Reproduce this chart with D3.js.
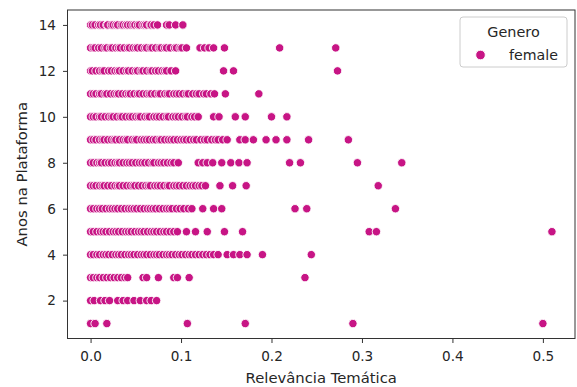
<!DOCTYPE html>
<html>
<head>
<meta charset="utf-8">
<script src="https://cdn.jsdelivr.net/npm/d3@7"></script>
<style>
  html, body { margin: 0; padding: 0; background: #fff; }
  svg { display: block; font-family: "DejaVu Sans", sans-serif; }
</style>
</head>
<body>
<svg id="chart" width="577" height="387"></svg>
<script>
// ---- Data ----
const seriesName = "female";
const legendTitle = "Genero";
const xLabel = "Relevância Temática";
const yLabel = "Anos na Plataforma";
const xTicks = [0.0, 0.1, 0.2, 0.3, 0.4, 0.5];
const yTicks = [2, 4, 6, 8, 10, 12, 14];

const row14 = [0.0,0.002,0.005,0.009,0.011,0.014,0.018,0.019,0.023,0.025,0.028,0.03,0.034,0.036,0.039,0.041,0.044,0.047,0.049,0.052,0.054,0.058,0.06,0.062,0.066,0.067,0.07,0.074,0.084,0.087,0.094,0.102];
const row13 = [0.0,0.003,0.005,0.009,0.012,0.016,0.018,0.022,0.024,0.028,0.031,0.033,0.037,0.041,0.043,0.047,0.05,0.052,0.056,0.06,0.062,0.066,0.068,0.072,0.076,0.078,0.082,0.084,0.088,0.093,0.095,0.099,0.101,0.106,0.121,0.126,0.131,0.136,0.148,0.209,0.271];
const row12 = [0.0,0.002,0.006,0.01,0.013,0.015,0.02,0.023,0.027,0.03,0.032,0.036,0.04,0.042,0.046,0.05,0.052,0.056,0.058,0.062,0.066,0.068,0.072,0.075,0.079,0.082,0.084,0.089,0.094,0.147,0.158,0.273];
const row11 = [0.0,0.003,0.006,0.01,0.012,0.016,0.018,0.022,0.026,0.029,0.031,0.035,0.039,0.042,0.044,0.048,0.052,0.054,0.058,0.062,0.065,0.067,0.071,0.075,0.077,0.082,0.085,0.087,0.092,0.095,0.098,0.102,0.106,0.108,0.113,0.117,0.12,0.125,0.128,0.133,0.137,0.149,0.186];
const row10 = [0.0,0.003,0.006,0.01,0.012,0.016,0.02,0.023,0.025,0.029,0.033,0.035,0.039,0.043,0.046,0.05,0.053,0.055,0.06,0.063,0.065,0.07,0.073,0.076,0.08,0.084,0.086,0.091,0.094,0.097,0.101,0.105,0.107,0.112,0.115,0.119,0.136,0.142,0.16,0.171,0.2,0.217];
const row9 = [0.0,0.003,0.006,0.01,0.013,0.015,0.019,0.023,0.026,0.028,0.032,0.036,0.039,0.041,0.046,0.049,0.051,0.056,0.059,0.062,0.065,0.069,0.072,0.076,0.078,0.082,0.086,0.089,0.092,0.096,0.1,0.103,0.106,0.11,0.114,0.117,0.122,0.126,0.129,0.134,0.138,0.141,0.146,0.151,0.165,0.171,0.18,0.194,0.205,0.217,0.241,0.285];
const row8 = [0.0,0.003,0.007,0.01,0.012,0.016,0.02,0.023,0.027,0.03,0.032,0.036,0.04,0.043,0.046,0.05,0.054,0.057,0.06,0.064,0.068,0.07,0.075,0.078,0.081,0.085,0.089,0.092,0.097,0.119,0.124,0.129,0.135,0.145,0.155,0.164,0.173,0.22,0.232,0.295,0.344];
const row7 = [0.0,0.003,0.006,0.01,0.013,0.015,0.019,0.023,0.027,0.03,0.032,0.036,0.04,0.044,0.047,0.049,0.053,0.057,0.061,0.064,0.066,0.071,0.074,0.077,0.081,0.085,0.087,0.092,0.095,0.098,0.102,0.106,0.11,0.113,0.116,0.12,0.123,0.127,0.143,0.157,0.172,0.318];
const row6 = [0.0,0.003,0.007,0.01,0.013,0.017,0.021,0.024,0.027,0.03,0.034,0.038,0.042,0.045,0.048,0.051,0.055,0.059,0.063,0.066,0.069,0.072,0.076,0.08,0.084,0.087,0.09,0.095,0.099,0.103,0.108,0.112,0.124,0.136,0.145,0.226,0.239,0.337];
const row5 = [0.0,0.003,0.007,0.011,0.014,0.017,0.021,0.025,0.028,0.031,0.035,0.039,0.042,0.045,0.049,0.053,0.056,0.059,0.063,0.067,0.07,0.073,0.077,0.081,0.084,0.088,0.092,0.096,0.106,0.116,0.129,0.148,0.168,0.308,0.316,0.51];
const row4 = [0.0,0.003,0.007,0.01,0.014,0.017,0.02,0.024,0.028,0.031,0.034,0.038,0.042,0.045,0.048,0.052,0.056,0.059,0.062,0.066,0.07,0.073,0.076,0.08,0.084,0.087,0.09,0.094,0.098,0.101,0.105,0.109,0.112,0.116,0.12,0.124,0.128,0.132,0.136,0.141,0.151,0.158,0.165,0.173,0.19,0.244];
const row3 = [0.0,0.003,0.007,0.01,0.014,0.018,0.022,0.026,0.03,0.034,0.038,0.041,0.058,0.062,0.075,0.092,0.096,0.109,0.237];
const row2 = [0.0,0.004,0.011,0.016,0.021,0.03,0.036,0.041,0.048,0.055,0.062,0.067,0.073];
const row1 = [0.0,0.005,0.018,0.107,0.171,0.29,0.5];

const rows = [
  [1, row1], [2, row2], [3, row3], [4, row4], [5, row5], [6, row6], [7, row7],
  [8, row8], [9, row9], [10, row10], [11, row11], [12, row12], [13, row13], [14, row14]
];

// ---- Build point table ----
const points = [];
rows.forEach(([yv, xs]) => xs.forEach(xv => points.push({ x: xv, y: yv })));

// ---- Layout ----
const svg = d3.select("#chart");
const plotLeft = 67.5, plotRight = 575, plotTop = 10, plotBottom = 338.5;
const color = "#c71585";
const textColor = "#262626";

const xMin = d3.min(points, d => d.x), xMax = d3.max(points, d => d.x);
const yMin = d3.min(points, d => d.y), yMax = d3.max(points, d => d.y);
const xPad = (xMax - xMin) * 0.05, yPad = (yMax - yMin) * 0.05;

const x = d3.scaleLinear().domain([xMin - xPad, xMax + xPad]).range([plotLeft, plotRight]);
const y = d3.scaleLinear().domain([yMin - yPad, yMax + yPad]).range([plotBottom, plotTop]);

// points
svg.append("g")
  .selectAll("circle")
  .data(points)
  .join("circle")
  .attr("cx", d => x(d.x))
  .attr("cy", d => y(d.y))
  .attr("r", 4.2)
  .attr("fill", color)
  .attr("stroke", "#fff")
  .attr("stroke-width", 0.9);

// axes
const xAxis = d3.axisBottom(x).tickValues(xTicks).tickFormat(d3.format(".1f")).tickSize(4.5).tickPadding(8);
const yAxis = d3.axisLeft(y).tickValues(yTicks).tickFormat(d3.format("d")).tickSize(4.5).tickPadding(7);

const gx = svg.append("g").attr("transform", `translate(0,${plotBottom})`).call(xAxis);
const gy = svg.append("g").attr("transform", `translate(${plotLeft},0)`).call(yAxis);
[gx, gy].forEach(g => {
  g.select(".domain").remove();
  g.selectAll(".tick line").attr("stroke", "#333").attr("stroke-width", 1);
  g.selectAll(".tick text").attr("fill", textColor).style("font-size", "13.6px")
    .style("font-family", "DejaVu Sans");
});

// frame
svg.append("rect")
  .attr("x", plotLeft).attr("y", plotTop)
  .attr("width", plotRight - plotLeft).attr("height", plotBottom - plotTop)
  .attr("fill", "none").attr("stroke", "#333").attr("stroke-width", 1);

// axis labels
svg.append("text")
  .attr("x", (plotLeft + plotRight) / 2).attr("y", 383)
  .attr("text-anchor", "middle")
  .attr("fill", textColor)
  .style("font-size", "14.8px")
  .text(xLabel);

svg.append("text")
  .attr("transform", `translate(27,${(plotTop + plotBottom) / 2}) rotate(-90)`)
  .attr("text-anchor", "middle")
  .attr("fill", textColor)
  .style("font-size", "14.8px")
  .text(yLabel);

// legend
const lg = svg.append("g");
lg.append("rect")
  .attr("x", 460).attr("y", 17).attr("width", 107).attr("height", 50)
  .attr("rx", 3).attr("fill", "#fff").attr("fill-opacity", 0.8)
  .attr("stroke", "#cccccc").attr("stroke-width", 1);
lg.append("text")
  .attr("x", 513.5).attr("y", 37)
  .attr("text-anchor", "middle")
  .attr("fill", textColor)
  .style("font-size", "14.4px")
  .text(legendTitle);
lg.append("circle")
  .attr("cx", 480.5).attr("cy", 55).attr("r", 4.8)
  .attr("fill", color).attr("stroke", "#fff").attr("stroke-width", 0.9);
lg.append("text")
  .attr("x", 558).attr("y", 60)
  .attr("text-anchor", "end")
  .attr("fill", textColor)
  .style("font-size", "14.2px")
  .text(seriesName);
</script>
</body>
</html>
